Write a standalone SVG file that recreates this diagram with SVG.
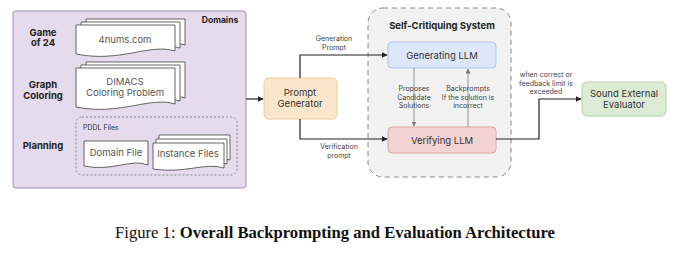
<svg xmlns="http://www.w3.org/2000/svg" width="680" height="255" viewBox="0 0 680 255">
<style>
.t{font-family:Inter,"Noto Sans",sans-serif;fill:#333;text-anchor:middle}
.lb{font-size:9.5px;font-weight:700;fill:#222}
.nd{font-size:9.5px}
.sm{font-size:7px;fill:#444}
.doc{fill:#fff;stroke:#555;stroke-width:0.9}
.con{fill:none;stroke:#222;stroke-width:1.2}
.in{fill:none;stroke:#888;stroke-width:0.9}
</style>
<defs>
<marker id="ah" viewBox="0 0 10 10" refX="9" refY="5" markerWidth="6" markerHeight="6" orient="auto" markerUnits="userSpaceOnUse"><path d="M0,0 L10,5 L0,10 Z" fill="#222"/></marker>
<marker id="ag" viewBox="0 0 10 10" refX="9" refY="5" markerWidth="5" markerHeight="5" orient="auto" markerUnits="userSpaceOnUse"><path d="M0,0 L10,5 L0,10 Z" fill="#777"/></marker>
</defs>
<rect width="680" height="255" fill="#fff"/>

<g id="domains">
<rect x="13" y="11" width="233" height="177" rx="3" fill="#e5dbec" stroke="#9f8db8" stroke-width="1"/>
<text class="t lb" x="220" y="23" style="font-size:8.5px">Domains</text>
<text class="t lb" x="43" y="36">Game</text>
<text class="t lb" x="43" y="46">of 24</text>
<text class="t lb" x="43" y="88">Graph</text>
<text class="t lb" x="43" y="99">Coloring</text>
<text class="t lb" x="43" y="149">Planning</text>
</g>

<g id="game24">
<path class="doc" d="M86,19 H185 V45 C160,37 130,57 86,48 Z"/>
<path class="doc" d="M81,22 H180 V48 C155,40 125,60 81,51 Z"/>
<path class="doc" d="M76,25 H175 V51 C150,43 120,63 76,54 Z"/>
<text class="t nd" x="125" y="43" style="fill:#555">4nums.com</text>
</g>

<g id="graphcoloring">
<path class="doc" d="M86,62 H185 V98 C160,90 130,110 86,101 Z"/>
<path class="doc" d="M81,65 H180 V101 C155,93 125,113 81,104 Z"/>
<path class="doc" d="M76,68 H175 V104 C150,96 120,116 76,107 Z"/>
<text class="t nd" x="125" y="85" style="fill:#555">DIMACS</text>
<text class="t nd" x="125" y="96" style="fill:#555">Coloring Problem</text>
</g>

<g id="pddl">
<rect x="76" y="117" width="161" height="58" rx="6" fill="none" stroke="#777" stroke-width="0.8" stroke-dasharray="2,2"/>
<text class="t" x="83" y="130" style="font-size:7px;text-anchor:start;fill:#333">PDDL Files</text>
</g>

<g id="domainfile">
<path class="doc" d="M84,141 H148 V165 C132,158 112,172 84,166 Z"/>
<text class="t nd" x="116" y="156" style="fill:#555">Domain File</text>
</g>

<g id="instancefiles">
<path class="doc" d="M159,135 H230 V160 C212,154 190,166 159,161 Z"/>
<path class="doc" d="M156,139 H227 V164 C209,158 187,170 156,165 Z"/>
<path class="doc" d="M153,143 H224 V168 C206,162 184,174 153,169 Z"/>
<text class="t nd" x="188" y="157" style="fill:#555">Instance Files</text>
</g>

<g id="promptgen">
<rect x="264" y="78" width="73" height="41" rx="5" fill="#fbe6cb" stroke="#eecb9c" stroke-width="1"/>
<text class="t nd" x="300" y="96">Prompt</text>
<text class="t nd" x="300" y="107">Generator</text>
</g>

<g id="selfcritique">
<rect x="368" y="8" width="143" height="169" rx="15" fill="#f2f2f2" stroke="#888" stroke-width="1" stroke-dasharray="5,4"/>
<text class="t" x="442" y="29" style="font-size:9.5px;font-weight:700;fill:#222">Self-Critiquing System</text>
</g>

<g id="genllm">
<rect x="388" y="42" width="108" height="26" rx="4" fill="#dde7fa" stroke="#aec3ec" stroke-width="1"/>
<text class="t nd" x="442" y="59">Generating LLM</text>
</g>

<g id="verllm">
<rect x="388" y="127" width="108" height="26" rx="4" fill="#f5d3d3" stroke="#e0a4a4" stroke-width="1"/>
<text class="t nd" x="442" y="144">Verifying LLM</text>
</g>

<g id="evaluator">
<rect x="582" y="82" width="84" height="34" rx="5" fill="#dcebd4" stroke="#b4d2a6" stroke-width="1"/>
<text class="t nd" x="624" y="97">Sound External</text>
<text class="t nd" x="624" y="108">Evaluator</text>
</g>

<g id="connectors">
<path class="con" d="M246,99 H263" marker-end="url(#ah)"/>
<path class="con" d="M300,78 V55 H387" marker-end="url(#ah)"/>
<path class="con" d="M300,119 V139 H387" marker-end="url(#ah)"/>
<path class="in" d="M414,68 V126" marker-end="url(#ag)"/>
<path class="in" d="M468,127 V69" marker-end="url(#ag)"/>
<path class="con" d="M496,139 H539 V99 H581" marker-end="url(#ah)"/>
<text class="t sm" x="334" y="41">Generation</text>
<text class="t sm" x="334" y="50">Prompt</text>
<text class="t sm" x="339" y="149">Verification</text>
<text class="t sm" x="339" y="158">prompt</text>
<text class="t sm" x="414" y="91">Proposes</text>
<text class="t sm" x="414" y="99.5">Candidate</text>
<text class="t sm" x="414" y="108">Solutions</text>
<text class="t sm" x="468" y="91">Backprompts</text>
<text class="t sm" x="468" y="99.5">If the solution is</text>
<text class="t sm" x="468" y="108">incorrect</text>
<text class="t sm" x="546" y="77">when correct or</text>
<text class="t sm" x="546" y="85.5">feedback limit is</text>
<text class="t sm" x="546" y="94">exceeded</text>
</g>

<text x="115" y="238" text-anchor="start" textLength="440" lengthAdjust="spacingAndGlyphs" style="font-family:'Liberation Serif',serif;font-size:16.5px;fill:#111">Figure 1: <tspan font-weight="700">Overall Backprompting and Evaluation Architecture</tspan></text>
</svg>
